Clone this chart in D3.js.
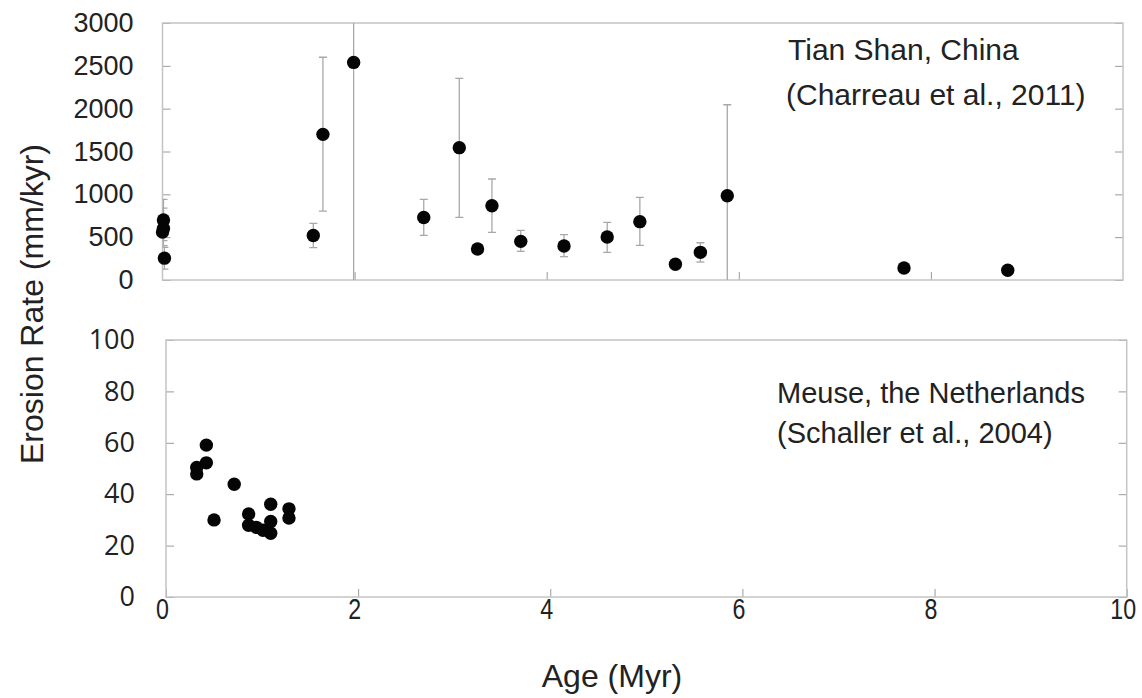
<!DOCTYPE html>
<html>
<head>
<meta charset="utf-8">
<script src="https://cdn.jsdelivr.net/npm/d3@7"></script>
<style>
  body { margin: 0; background: #fff; }
  svg { display: block; }
</style>
</head>
<body>
<script>
// Tian Shan (Charreau et al., 2011)
var tianAge  = [0.01, 0.01, 0.00, 0.02, 1.57, 1.67, 1.99, 2.72, 3.09, 3.28, 3.43, 3.73, 4.18, 4.63, 4.97, 5.34, 5.60, 5.88, 7.72, 8.80];
var tianRate = [700, 600, 560, 255, 520, 1700, 2540, 730, 1545, 362, 866, 451, 397, 502, 681, 183, 323, 984, 140, 113];
var tianLow  = [460, 400, null, 128, 377, 805, -1000, 521, 732, null, 557, 335, 272, 323, 405, null, 210, -100, null, null];
var tianHigh = [940, 840, null, 380, 660, 2600, 5000, 942, 2354, null, 1179, 580, 529, 673, 965, null, 435, 2046, null, null];

// Meuse (Schaller et al., 2004)
var meuseAge  = [0.42, 0.42, 0.32, 0.32, 0.71, 0.50, 0.86, 0.86, 0.94, 1.01, 1.09, 1.09, 1.09, 1.28, 1.28];
var meuseRate = [59.1, 52.2, 50.4, 47.9, 43.9, 30.0, 32.3, 27.9, 27.1, 26.0, 36.1, 29.4, 24.8, 34.3, 30.7];

var ageTicks = [0, 2, 4, 6, 8, 10];
var tianTicks = [0, 500, 1000, 1500, 2000, 2500, 3000];
var meuseTicks = [0, 20, 40, 60, 80, 100];

var width = 1142, height = 698;
var svg = d3.select("body").append("svg")
    .attr("width", width)
    .attr("height", height);

var frameColor = "#c4c4c4", tickColor = "#9a9a9a";

// scales
var xTop = d3.scaleLinear().domain([0, 10]).range([162.5, 1123]);
var yTop = d3.scaleLinear().domain([0, 3000]).range([280, 23]);
var xBot = d3.scaleLinear().domain([0, 10]).range([166, 1126.7]);
var yBot = d3.scaleLinear().domain([0, 100]).range([597, 340]);

function styleAxis(g) {
  g.select(".domain").remove();
  g.selectAll(".tick line").attr("stroke", tickColor).attr("stroke-width", 1);
}

// ---- top panel ----
var gTop = svg.append("g").attr("class", "top");

gTop.append("clipPath").attr("id", "clipTop")
  .append("rect")
    .attr("x", xTop(0)).attr("y", yTop(3000))
    .attr("width", xTop(10) - xTop(0)).attr("height", yTop(0) - yTop(3000));

gTop.append("g")
    .attr("transform", "translate(" + xTop(0) + ",0)")
    .call(d3.axisLeft(yTop).tickValues(tianTicks).tickSize(-8).tickPadding(29).tickFormat(d3.format("d")))
    .call(styleAxis)
    .selectAll("text")
      .attr("fill", "#222")
      .style("font-family", "'Liberation Sans', Arial, sans-serif")
      .style("font-size", "27px");

gTop.append("g")
    .attr("transform", "translate(" + xTop(10) + ",0)")
    .call(d3.axisRight(yTop).tickValues(tianTicks).tickSize(-8).tickFormat(""))
    .call(styleAxis);

gTop.append("g")
    .attr("transform", "translate(0," + yTop(0) + ")")
    .call(d3.axisBottom(xTop).tickValues([2, 4, 6, 8]).tickSize(-8).tickFormat(""))
    .call(styleAxis);

gTop.append("rect")
    .attr("x", xTop(0)).attr("y", yTop(3000))
    .attr("width", xTop(10) - xTop(0)).attr("height", yTop(0) - yTop(3000))
    .attr("fill", "none").attr("stroke", frameColor).attr("stroke-width", 1.5);

var tian = tianAge.map(function(a, i) {
  return {age: a, rate: tianRate[i], lo: tianLow[i], hi: tianHigh[i]};
});
var withErr = tian.filter(function(d) { return d.lo !== null; });

var errG = gTop.append("g").attr("clip-path", "url(#clipTop)");
errG.selectAll("line.bar").data(withErr).enter().append("line")
    .attr("class", "bar")
    .attr("x1", function(d) { return xTop(d.age); })
    .attr("x2", function(d) { return xTop(d.age); })
    .attr("y1", function(d) { return yTop(d.lo); })
    .attr("y2", function(d) { return yTop(d.hi); })
    .attr("stroke", "#a8a8a8").attr("stroke-width", 1.3);

var caps = [];
withErr.forEach(function(d) {
  [d.lo, d.hi].forEach(function(v) {
    if (v > 0 && v < 3000) caps.push({age: d.age, v: v});
  });
});
errG.selectAll("line.cap").data(caps).enter().append("line")
    .attr("class", "cap")
    .attr("x1", function(d) { return xTop(d.age) - 4; })
    .attr("x2", function(d) { return xTop(d.age) + 4; })
    .attr("y1", function(d) { return yTop(d.v); })
    .attr("y2", function(d) { return yTop(d.v); })
    .attr("stroke", "#a8a8a8").attr("stroke-width", 1.3);

gTop.selectAll("circle").data(tian).enter().append("circle")
    .attr("cx", function(d) { return xTop(d.age); })
    .attr("cy", function(d) { return yTop(d.rate); })
    .attr("r", 6.7)
    .attr("fill", "#050505");

gTop.append("text")
    .attr("x", 788).attr("y", 60)
    .style("font-family", "'Liberation Sans', Arial, sans-serif")
    .style("font-size", "30px").attr("fill", "#222")
    .text("Tian Shan, China");
gTop.append("text")
    .attr("x", 786).attr("y", 105)
    .style("font-family", "'Liberation Sans', Arial, sans-serif")
    .style("font-size", "30px").attr("fill", "#222")
    .text("(Charreau et al., 2011)");

// ---- bottom panel ----
var gBot = svg.append("g").attr("class", "bottom");

gBot.append("g")
    .attr("transform", "translate(" + xBot(0) + ",0)")
    .call(d3.axisLeft(yBot).tickValues(meuseTicks).tickSize(-8).tickPadding(31).tickFormat(d3.format("d")))
    .call(styleAxis)
    .selectAll("text")
      .attr("fill", "#222")
      .style("font-family", "'Open Sans', sans-serif")
      .style("font-size", "27px");

gBot.append("g")
    .attr("transform", "translate(" + xBot(10) + ",0)")
    .call(d3.axisRight(yBot).tickValues(meuseTicks).tickSize(-8).tickFormat(""))
    .call(styleAxis);

// condensed x labels, squeezed horizontally
gBot.append("g")
    .attr("transform", "translate(0," + yBot(0) + ")")
    .call(d3.axisBottom(xBot).tickValues(ageTicks).tickSize(-8).tickPadding(1).tickFormat(d3.format("d")))
    .call(styleAxis)
    .selectAll("text")
      .attr("dx", -5)
      .attr("transform", "scale(0.8,1)")
      .attr("fill", "#222")
      .style("font-family", "'Liberation Sans', Arial, sans-serif")
      .style("font-size", "29px");

gBot.append("rect")
    .attr("x", xBot(0)).attr("y", yBot(100))
    .attr("width", xBot(10) - xBot(0)).attr("height", yBot(0) - yBot(100))
    .attr("fill", "none").attr("stroke", frameColor).attr("stroke-width", 1.5);

var meuse = meuseAge.map(function(a, i) { return {age: a, rate: meuseRate[i]}; });
gBot.selectAll("circle").data(meuse).enter().append("circle")
    .attr("cx", function(d) { return xBot(d.age); })
    .attr("cy", function(d) { return yBot(d.rate); })
    .attr("r", 6.7)
    .attr("fill", "#050505");

gBot.append("text")
    .attr("x", 777).attr("y", 403)
    .style("font-family", "'Liberation Sans', Arial, sans-serif")
    .style("font-size", "29px").attr("fill", "#222")
    .text("Meuse, the Netherlands");
gBot.append("text")
    .attr("x", 777).attr("y", 443)
    .style("font-family", "'Liberation Sans', Arial, sans-serif")
    .style("font-size", "29px").attr("fill", "#222")
    .text("(Schaller et al., 2004)");

// ---- axis titles ----
svg.append("text")
    .attr("transform", "translate(43,304) rotate(-90)")
    .attr("text-anchor", "middle")
    .style("font-family", "'Liberation Sans', Arial, sans-serif")
    .style("font-size", "32px").attr("fill", "#222")
    .text("Erosion Rate (mm/kyr)");

svg.append("text")
    .attr("x", 612).attr("y", 687)
    .attr("text-anchor", "middle")
    .style("font-family", "'Liberation Sans', Arial, sans-serif")
    .style("font-size", "32px").attr("fill", "#222")
    .text("Age (Myr)");
</script>
</body>
</html>
